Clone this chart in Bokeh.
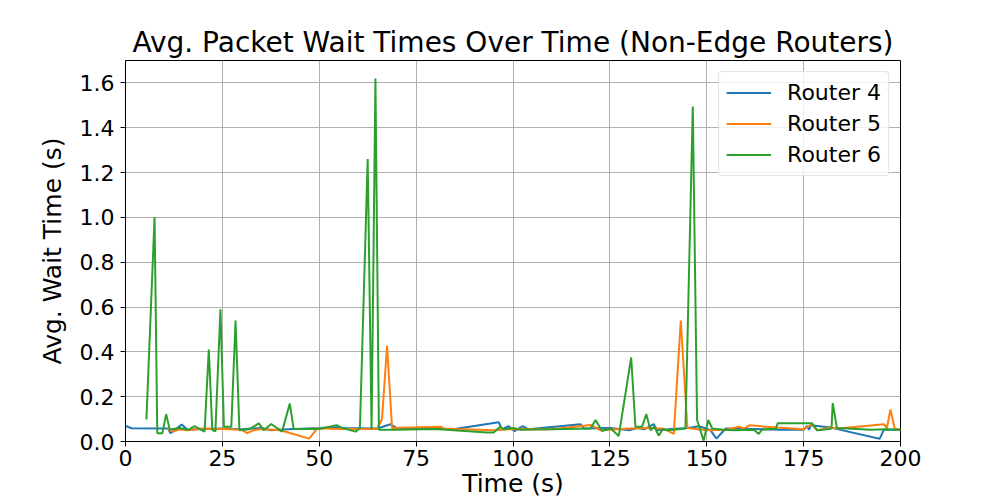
from bokeh.plotting import figure
from bokeh.embed import file_html
from bokeh.resources import INLINE
from bokeh.models import FixedTicker, Legend, LegendItem, NumeralTickFormatter, Range1d

# ---- data ----
r4_t = [0, 1.6, 11.0, 11.6, 13.0, 14.5, 16.0, 20.0, 25.0, 30.0, 35.0, 37.5, 42.0, 50.0, 54.5, 56.0,
        65.0, 68.4, 70.0, 80.0, 85.0, 96.3, 97.2, 98.9, 100.4, 102.4, 104.0, 117.4, 118.3, 125.0,
        130.0, 132.0, 134.0, 136.3, 137.2, 140.0, 145.2, 148.0, 150.9, 152.5, 154.9, 162.2, 168.6,
        175.0, 175.9, 176.4, 176.8, 182.0, 194.6, 195.7, 200.0]
r4_v = [0.069, 0.059, 0.058, 0.037, 0.056, 0.076, 0.052, 0.056, 0.058, 0.055, 0.060, 0.050, 0.055,
        0.060, 0.064, 0.060, 0.058, 0.077, 0.060, 0.056, 0.056, 0.086, 0.055, 0.068, 0.046, 0.068,
        0.055, 0.077, 0.058, 0.060, 0.050, 0.060, 0.055, 0.078, 0.050, 0.055, 0.060, 0.068, 0.052,
        0.013, 0.058, 0.056, 0.052, 0.052, 0.069, 0.052, 0.072, 0.062, 0.012, 0.052, 0.052]

r5_t = [10.8, 12.4, 14.0, 16.0, 20.0, 25.0, 30.0, 31.4, 33.0, 35.0, 40.0, 47.4, 49.5, 55.0, 64.9,
        66.2, 67.5, 68.8, 81.3, 82.2, 85.0, 95.0, 100.0, 110.0, 120.0, 122.6, 130.0, 135.0, 138.9,
        141.5, 143.3, 145.0, 150.0, 155.0, 158.3, 159.6, 161.1, 165.0, 168.1, 175.0, 177.2, 178.5,
        182.0, 184.0, 195.7, 196.5, 197.4, 198.5, 200.0]
r5_v = [0.056, 0.044, 0.054, 0.050, 0.058, 0.056, 0.052, 0.037, 0.050, 0.056, 0.050, 0.013, 0.059,
        0.056, 0.056, 0.100, 0.427, 0.060, 0.066, 0.058, 0.056, 0.050, 0.056, 0.055, 0.074, 0.050,
        0.058, 0.060, 0.057, 0.034, 0.540, 0.060, 0.050, 0.052, 0.066, 0.058, 0.073, 0.066, 0.062,
        0.055, 0.077, 0.050, 0.062, 0.058, 0.077, 0.060, 0.143, 0.058, 0.050]

r6_t = [5.4, 7.5, 8.2, 9.5, 10.5, 11.4, 14.0, 16.3, 17.8, 20.4, 21.5, 22.4, 23.2, 24.5, 25.4, 27.3,
        28.4, 29.4, 32.0, 34.4, 35.7, 37.6, 40.4, 42.4, 43.4, 50.0, 54.5, 56.0, 59.4, 60.5, 62.5,
        63.5, 64.5, 65.4, 70.0, 80.0, 93.3, 95.0, 96.7, 97.5, 100.0, 102.0, 110.0, 120.0, 121.3,
        123.0, 125.2, 127.3, 130.5, 131.6, 133.3, 134.4, 135.5, 136.5, 137.6, 138.6, 139.7, 141.4,
        144.5, 146.4, 147.5, 149.2, 150.4, 151.4, 154.4, 157.2, 162.2, 163.4, 164.2, 166.3, 167.8,
        168.3, 177.2, 178.5, 180.0, 182.2, 182.5, 183.6, 192.5, 196.0, 200.0]
r6_v = [0.098, 1.000, 0.037, 0.037, 0.122, 0.054, 0.060, 0.052, 0.069, 0.044, 0.410, 0.051, 0.045,
        0.590, 0.066, 0.066, 0.540, 0.050, 0.055, 0.081, 0.050, 0.078, 0.044, 0.169, 0.056, 0.056,
        0.073, 0.060, 0.044, 0.060, 1.260, 0.055, 1.620, 0.052, 0.052, 0.056, 0.040, 0.040, 0.066,
        0.055, 0.060, 0.052, 0.055, 0.058, 0.096, 0.047, 0.058, 0.025, 0.375, 0.066, 0.066, 0.122,
        0.050, 0.066, 0.026, 0.055, 0.050, 0.052, 0.058, 1.495, 0.096, 0.004, 0.096, 0.058, 0.052,
        0.050, 0.052, 0.034, 0.052, 0.056, 0.056, 0.081, 0.081, 0.050, 0.052, 0.058, 0.172, 0.060,
        0.052, 0.055, 0.052]

series_names = ["Router 4", "Router 5", "Router 6"]
series_colors = ["#1f77b4", "#ff7f0e", "#2ca02c"]
x_ticks = [0, 25, 50, 75, 100, 125, 150, 175, 200]
y_ticks = [0.0, 0.2, 0.4, 0.6, 0.8, 1.0, 1.2, 1.4, 1.6]
x_label = "Time (s)"
y_label = "Avg. Wait Time (s)"
title_text = "Avg. Packet Wait Times Over Time (Non-Edge Routers)"

FONT = "DejaVu Sans"

p = figure(width=1000, height=500, output_backend="svg", toolbar_location=None,
           x_range=Range1d(0, 200), y_range=Range1d(0, 1.7),
           min_border_left=125, min_border_right=100, min_border_top=60, min_border_bottom=0,
           title=title_text)

p.title.text_font = FONT
p.title.text_font_size = "28px"
p.title.text_font_style = "normal"
p.title.align = "center"
p.title.text_color = "black"
p.title.standoff = 3

p.outline_line_color = "black"
p.outline_line_width = 1
p.outline_line_alpha = 1

for ax in (p.xaxis, p.yaxis):
    ax.axis_label_text_font = FONT
    ax.axis_label_text_font_size = "25px"
    ax.axis_label_text_font_style = "normal"
    ax.axis_label_text_color = "black"
    ax.major_label_text_font = FONT
    ax.major_label_text_font_size = "22px"
    ax.major_label_text_color = "black"
    ax.axis_line_color = "black"
    ax.major_tick_line_color = "black"
    ax.major_tick_out = 5
    ax.major_tick_in = 0
    ax.minor_tick_line_color = None

p.xaxis.axis_label = x_label
p.yaxis.axis_label = y_label
p.xaxis.ticker = FixedTicker(ticks=x_ticks)
p.yaxis.ticker = FixedTicker(ticks=y_ticks)
p.yaxis.formatter = NumeralTickFormatter(format="0.0")
p.xaxis.major_label_standoff = 3
p.xaxis.axis_label_standoff = 0
p.yaxis.major_label_standoff = 6
p.yaxis.axis_label_standoff = 10

p.xgrid.ticker = FixedTicker(ticks=x_ticks)
p.ygrid.ticker = FixedTicker(ticks=y_ticks)
for g in (p.xgrid, p.ygrid):
    g.grid_line_color = "#b0b0b0"
    g.grid_line_width = 1

items = []
for name, color, t, v in zip(series_names, series_colors, [r4_t, r5_t, r6_t], [r4_v, r5_v, r6_v]):
    r = p.line(t, v, line_color=color, line_width=2)
    items.append(LegendItem(label=name, renderers=[r]))

legend = Legend(items=items, location="top_right")
legend.label_text_font = FONT
legend.label_text_font_size = "22px"
legend.label_text_color = "black"
legend.border_line_color = "#cccccc"
legend.border_line_width = 1
legend.border_radius = 4
legend.background_fill_alpha = 0.8
legend.glyph_width = 45
legend.glyph_height = 27
legend.label_standoff = 16
legend.spacing = 4
legend.padding = 7
legend.margin = 11
p.add_layout(legend)

open("out.html", "w").write(file_html(p, INLINE))
